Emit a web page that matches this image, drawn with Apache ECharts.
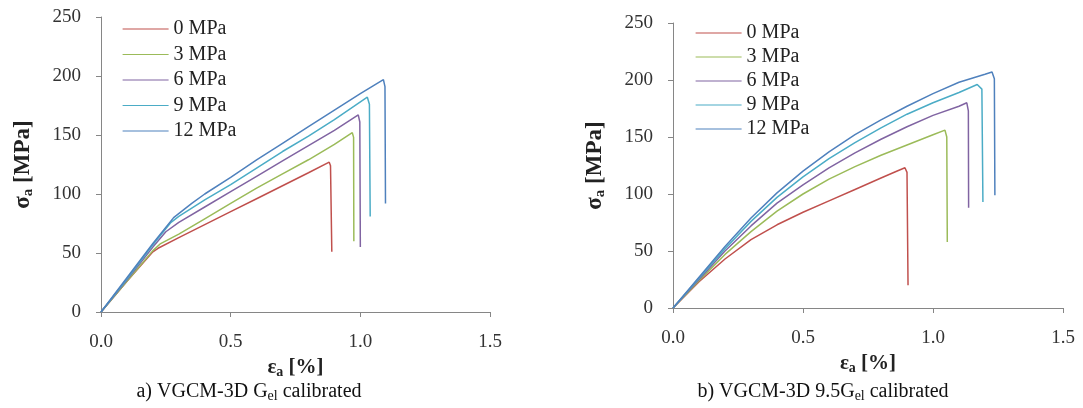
<!DOCTYPE html>
<html>
<head>
<meta charset="utf-8">
<script src="https://cdn.jsdelivr.net/npm/echarts@6/dist/echarts.min.js"></script>
<style>
  html, body { margin: 0; padding: 0; background: #fff; }
  #chart { width: 1083px; height: 408px; }
</style>
</head>
<body>
<div id="chart"></div>
<script>
// confining pressures
const pressures = ['0 MPa', '3 MPa', '6 MPa', '9 MPa', '12 MPa'];
const xTicks = [0, 0.5, 1.0, 1.5];
const yTicks = [0, 50, 100, 150, 200, 250];

// a) VGCM-3D Gel calibrated  [strain %, stress MPa]
const a0 = [[0,0],[0.1,26],[0.2,51],[0.22,54],[0.3,63],[0.4,74],[0.5,85],[0.6,96],[0.7,107],[0.8,118],[0.88,127],[0.885,124],[0.89,51]];
const a3 = [[0,0],[0.1,26],[0.2,52],[0.23,58],[0.3,66],[0.4,79],[0.5,92],[0.6,105],[0.7,117],[0.8,129],[0.9,142],[0.969,152],[0.974,148],[0.975,60]];
const a6 = [[0,0],[0.1,27],[0.2,55],[0.25,68],[0.3,76],[0.4,89],[0.5,102],[0.6,115],[0.7,128],[0.8,141],[0.9,154],[0.992,167],[0.998,161],[1.0,55]];
const a9 = [[0,0],[0.1,28],[0.2,57],[0.27,76],[0.3,81],[0.4,95],[0.5,108],[0.6,122],[0.7,136],[0.8,149],[0.9,163],[1.027,182],[1.035,176],[1.038,81]];
const a12 = [[0,0],[0.1,29],[0.2,58],[0.28,80],[0.35,92],[0.4,100],[0.5,114],[0.6,129],[0.7,143],[0.8,157],[0.9,171],[1.0,185],[1.089,197],[1.095,191],[1.097,92]];

// b) VGCM-3D 9.5Gel calibrated
const b0 = [[0,0],[0.1,23],[0.2,43],[0.3,60],[0.4,73],[0.5,84],[0.6,94],[0.7,104],[0.8,114],[0.86,120],[0.892,123],[0.9,119],[0.904,20]];
const b3 = [[0,0],[0.1,24],[0.2,47],[0.3,67],[0.4,85],[0.5,100],[0.6,113],[0.7,124],[0.8,134],[0.9,143],[1.0,152],[1.046,156],[1.053,150],[1.055,58]];
const b6 = [[0,0],[0.1,25],[0.2,50],[0.3,72],[0.4,92],[0.5,108],[0.6,123],[0.7,136],[0.8,148],[0.9,159],[1.0,169],[1.1,177],[1.13,180],[1.136,173],[1.137,88]];
const b9 = [[0,0],[0.1,26],[0.2,52],[0.3,76],[0.4,97],[0.5,115],[0.6,131],[0.7,145],[0.8,158],[0.9,170],[1.0,180],[1.1,189],[1.17,196],[1.188,192],[1.192,93]];
const b12 = [[0,0],[0.1,27],[0.2,54],[0.3,79],[0.4,101],[0.5,120],[0.6,137],[0.7,152],[0.8,165],[0.9,177],[1.0,188],[1.1,198],[1.2,205],[1.227,207],[1.236,201],[1.238,99]];

const colors = ['#C0504D', '#9BBB59', '#8064A2', '#4BACC6', '#4F81BD'];
const serif = 'Liberation Serif';

function xAxis(gridIndex) {
  return {
    type: 'value', gridIndex, min: 0, max: 1.5, interval: 0.5,
    name: '{n|ε}{s|a}{n| [%]}', nameLocation: 'middle', nameGap: 32,
    nameTextStyle: {
      rich: {
        n: {fontFamily: serif, fontWeight: 'bold', fontSize: 21, color: '#222'},
        s: {fontFamily: serif, fontWeight: 'bold', fontSize: 14, color: '#222', padding: [9, 0, 0, 0]}
      }
    },
    axisLine: {lineStyle: {color: '#868686'}},
    axisTick: {show: true, length: 5, lineStyle: {color: '#868686'}},
    splitLine: {show: false},
    axisLabel: {
      margin: 21, fontFamily: serif, fontSize: 19, color: '#333',
      formatter: v => xTicks.includes(v) ? v.toFixed(1) : ''
    }
  };
}

function yAxis(gridIndex) {
  return {
    type: 'value', gridIndex, min: 0, max: 250, interval: 50,
    name: '{n|σ}{s|a}{n| [MPa]}', nameLocation: 'middle', nameGap: 65, nameRotate: 90,
    nameTextStyle: {
      rich: {
        n: {fontFamily: serif, fontWeight: 'bold', fontSize: 23, color: '#222'},
        s: {fontFamily: serif, fontWeight: 'bold', fontSize: 15, color: '#222', padding: [10, 0, 0, 0]}
      }
    },
    axisLine: {show: true, lineStyle: {color: '#868686'}},
    axisTick: {show: true, length: 5, lineStyle: {color: '#868686'}},
    splitLine: {show: false},
    axisLabel: {
      margin: 20, fontFamily: serif, fontSize: 19, color: '#333',
      formatter: v => yTicks.includes(v) ? String(v) : ''
    }
  };
}

function legend(left, top, gap) {
  return {
    orient: 'vertical', left, top, padding: 0,
    itemWidth: 46, itemHeight: 14, itemGap: gap,
    data: pressures,
    itemStyle: {opacity: 0},
    lineStyle: {width: 1.2},
    textStyle: {fontFamily: serif, fontSize: 20, color: '#222'}
  };
}

function caption(text, sub, tail, left) {
  return {
    text: '{t|' + text + '}{s|' + sub + '}{t|' + tail + '}',
    left, top: 375, textAlign: 'center',
    textStyle: {
      fontWeight: 'normal',
      rich: {
        t: {fontFamily: serif, fontWeight: 'normal', fontSize: 20, color: '#111'},
        s: {fontFamily: serif, fontWeight: 'normal', fontSize: 14, color: '#111', padding: [9, 0, 0, 0]}
      }
    }
  };
}

const sets = [[a0, a3, a6, a9, a12], [b0, b3, b6, b9, b12]];
const series = [];
sets.forEach((set, g) => {
  set.forEach((data, i) => {
    series.push({
      type: 'line', name: pressures[i], data,
      xAxisIndex: g, yAxisIndex: g,
      symbol: 'none', smooth: false,
      lineStyle: {width: 1.5, color: colors[i]},
      itemStyle: {color: colors[i]}
    });
  });
});

const chart = echarts.init(document.getElementById('chart'), null, {renderer: 'canvas'});
chart.setOption({
  animation: false,
  backgroundColor: '#fff',
  title: [
    caption('a) VGCM-3D G', 'el', ' calibrated', 244),
    caption('b) VGCM-3D 9.5G', 'el', ' calibrated', 818)
  ],
  legend: [legend(122, 19, 5.5), legend(695, 23, 4)],
  grid: [
    {left: 101, top: 17, width: 389, height: 295},
    {left: 673, top: 23, width: 390, height: 285}
  ],
  xAxis: [xAxis(0), xAxis(1)],
  yAxis: [yAxis(0), yAxis(1)],
  series
});
</script>
</body>
</html>
